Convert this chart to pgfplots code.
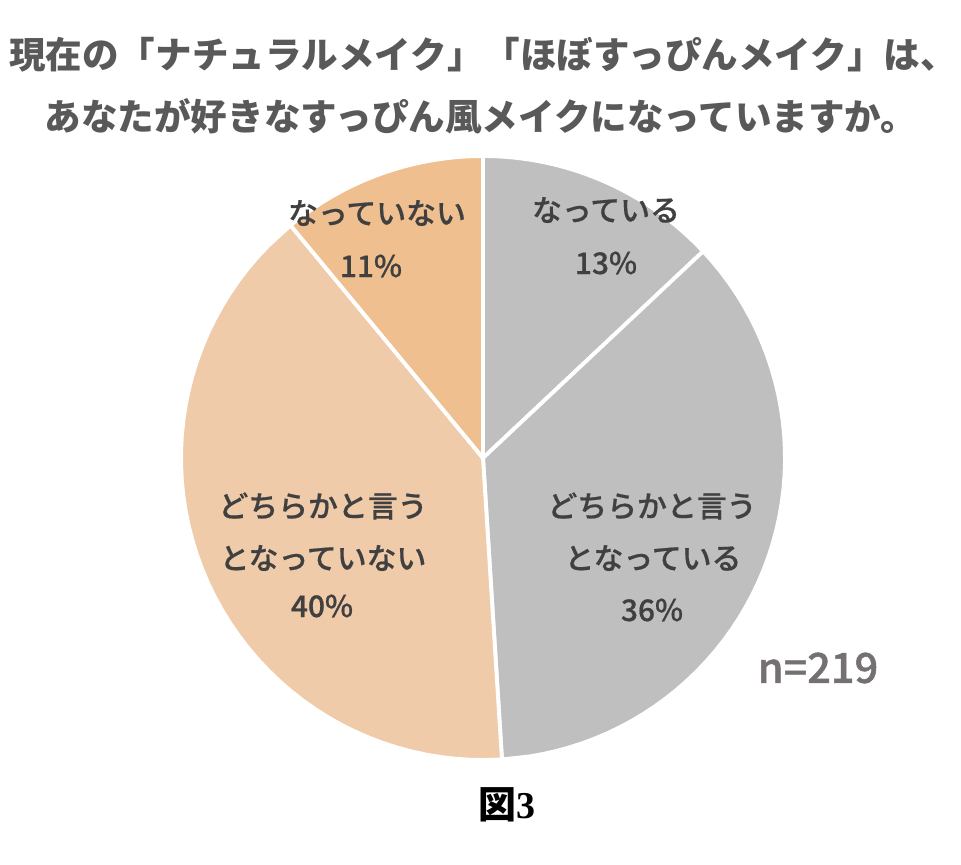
\documentclass[border=0pt]{standalone}
\usepackage{pgfplots}
\usepackage{pgfplotstable}
\pgfplotsset{compat=1.18}
\usepackage{fontspec}
\newfontfamily\jp{Noto Sans CJK JP}
\newfontfamily\jpm{Noto Sans CJK JP Medium}[FakeBold=0.6]
\newfontfamily\jpn{Noto Sans CJK JP Medium}[FakeBold=1.2]
\newfontfamily\serifnum{Liberation Serif}

\definecolor{sliceGray}{HTML}{BFBFBF}
\definecolor{sliceOrange}{HTML}{F0BF8F}
\definecolor{slicePeach}{HTML}{F0CBA9}
\definecolor{titleGray}{HTML}{595959}
\definecolor{labelGray}{HTML}{404040}
\definecolor{nGray}{HTML}{767171}

% shares in percent, clockwise from 12 o'clock
\pgfplotstableread{
share
13
36
40
11
}\piedata

% pie slice from angle #1 to #2 (degrees, clockwise from top)
\newcommand{\pieslice}[3]{%
  \addplot[fill=#3, draw=white, line width=1.1pt, line join=round,
    samples at={-1,0,0.02,...,0.98,1,2}, variable=\t]
  ({483+((\t<0||\t>1)?0:302)*sin(#1+(#2-#1)*max(0,min(1,\t)))},
   {458-((\t<0||\t>1)?0:302)*cos(#1+(#2-#1)*max(0,min(1,\t)))});
}

\begin{document}
\begin{tikzpicture}
\pgfplotstablegetelem{0}{share}\of\piedata \let\va\pgfplotsretval
\pgfplotstablegetelem{1}{share}\of\piedata \let\vb\pgfplotsretval
\pgfplotstablegetelem{2}{share}\of\piedata \let\vc\pgfplotsretval
\pgfplotstablegetelem{3}{share}\of\piedata \let\vd\pgfplotsretval
\pgfmathsetmacro{\aA}{3.6*\va}
\pgfmathsetmacro{\aB}{\aA+3.6*\vb}
\pgfmathsetmacro{\aC}{\aB+3.6*\vc}
\begin{axis}[
    width=9.61cm, height=8.64cm, scale only axis,
    hide axis, clip=false,
    xmin=0, xmax=961, ymin=0, ymax=864, y dir=reverse,
  ]
  \path (axis cs:0,0) rectangle (axis cs:961,864);

  \pieslice{0}{\aA}{sliceGray}
  \pieslice{\aA}{\aB}{sliceGray}
  \pieslice{\aB}{\aC}{slicePeach}
  \pieslice{\aC}{360}{sliceOrange}

  % title
  \begin{scope}[every node/.style={font=\jp\bfseries\fontsize{10.4pt}{12pt}\selectfont, text=titleGray, inner sep=0pt}]
    \node at (axis cs:483,55) {現在の「ナチュラルメイク」「ほぼすっぴんメイク」は、};
    \node at (axis cs:481,116) {あなたが好きなすっぴん風メイクになっていますか。};
  \end{scope}

  % slice labels
  \begin{scope}[every node/.style={font=\jpm\fontsize{8.5pt}{10pt}\selectfont, text=labelGray, inner sep=0pt}]
    \node at (axis cs:606,210) {なっている};
    \node at (axis cs:606,263) {\va\%};
    \node at (axis cs:652,506) {どちらかと言う};
    \node at (axis cs:653,558) {となっている};
    \node at (axis cs:652,610) {\vb\%};
    \node at (axis cs:323,506) {どちらかと言う};
    \node at (axis cs:323,558) {となっていない};
    \node at (axis cs:322,606) {\vc\%};
    \node at (axis cs:377,213) {なっていない};
    \node at (axis cs:371,266) {\vd\%};
  \end{scope}

  \node[font=\jpn\fontsize{11.8pt}{14pt}\selectfont, text=nGray, inner sep=0pt]
    at (axis cs:818,668) {n=219};
  \node[font=\fontsize{10.8pt}{12pt}\selectfont, text=black, inner sep=0pt]
    at (axis cs:507,805) {{\jp\bfseries 図}{\serifnum\bfseries 3}};
\end{axis}
\end{tikzpicture}
\end{document}
